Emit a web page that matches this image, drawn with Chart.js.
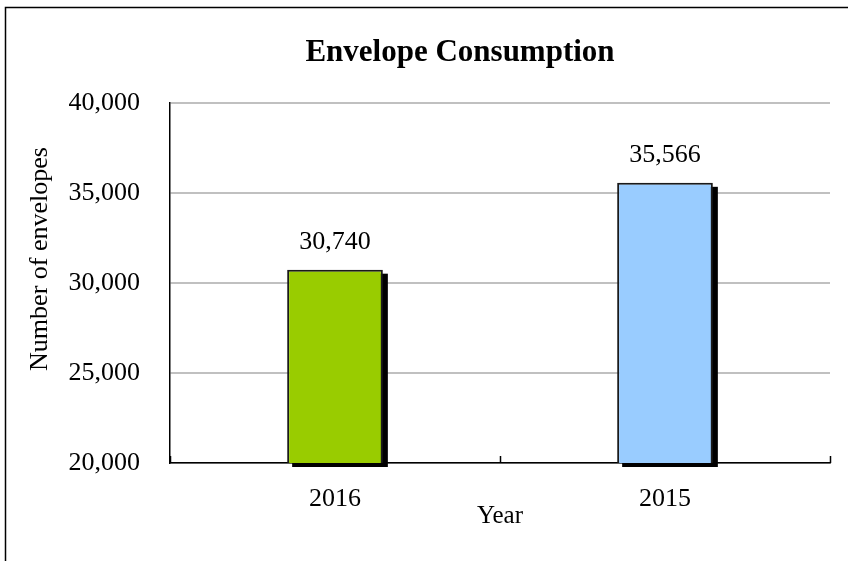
<!DOCTYPE html>
<html>
<head>
<meta charset="utf-8">
<script src="https://cdn.jsdelivr.net/npm/chart.js@4"></script>
<style>
  html, body { margin: 0; padding: 0; background: #fff; }
  #wrap { width: 848px; height: 561px; position: relative; }
</style>
</head>
<body>
<div id="wrap"><canvas id="chart" width="848" height="561"></canvas></div>
<script>
const years = ['2016', '2015'];
const envelopes = [30740, 35566];
const barColors = ['#99cc00', '#99ccff'];
const yTicks = [20000, 25000, 30000, 35000, 40000];

const serif = '"Liberation Serif", "Times New Roman", serif';

// frame around the whole picture (only top and left are in view)
const framePlugin = {
    id: 'frame',
    beforeDraw(chart) {
        const ctx = chart.ctx;
        ctx.save();
        ctx.strokeStyle = '#000';
        ctx.lineWidth = 1.5;
        ctx.beginPath();
        ctx.moveTo(5.5, 561);
        ctx.lineTo(5.5, 7.5);
        ctx.lineTo(848, 7.5);
        ctx.stroke();
        ctx.restore();
    }
};

// chart title and y axis title, placed like the original
const titlesPlugin = {
    id: 'titles',
    afterDraw(chart) {
        const ctx = chart.ctx;
        ctx.save();
        ctx.fillStyle = '#000';
        ctx.textAlign = 'center';
        ctx.textBaseline = 'middle';
        ctx.font = 'bold 31px ' + serif;
        ctx.fillText('Envelope Consumption', 460, 53);
        ctx.translate(40, 259);
        ctx.rotate(-Math.PI / 2);
        ctx.font = '26px ' + serif;
        ctx.fillText('Number of envelopes', 0, 0);
        ctx.restore();
    }
};

// black drop shadow under the bars
const shadowPlugin = {
    id: 'barShadow',
    beforeDatasetsDraw(chart) {
        const ctx = chart.ctx;
        const meta = chart.getDatasetMeta(0);
        const bottom = chart.chartArea.bottom;
        ctx.save();
        ctx.fillStyle = '#000';
        meta.data.forEach(bar => {
            const p = bar.getProps(['x', 'y', 'width']);
            ctx.fillRect(p.x - p.width / 2 + 5, p.y + 4, p.width, bottom - p.y);
        });
        ctx.restore();
    }
};

const valueLabels = {
    id: 'valueLabels',
    afterDatasetsDraw(chart) {
        const ctx = chart.ctx;
        const meta = chart.getDatasetMeta(0);
        ctx.save();
        ctx.font = '26px ' + serif;
        ctx.fillStyle = '#000';
        ctx.textAlign = 'center';
        ctx.textBaseline = 'bottom';
        meta.data.forEach((bar, i) => {
            ctx.fillText(envelopes[i].toLocaleString('en-US'), bar.x, bar.y - 15);
        });
        ctx.restore();
    }
};

// small tick marks on the x axis between categories, pointing up
const xTickMarks = {
    id: 'xTickMarks',
    afterDraw(chart) {
        const ctx = chart.ctx;
        const x = chart.scales.x;
        const area = chart.chartArea;
        const step = (area.right - area.left) / years.length;
        ctx.save();
        ctx.strokeStyle = '#000';
        ctx.lineWidth = 1.5;
        ctx.beginPath();
        for (let i = 0; i <= years.length; i++) {
            const px = Math.round(x.left + step * i) + 0.5;
            ctx.moveTo(px, area.bottom);
            ctx.lineTo(px, area.bottom - 7);
        }
        ctx.stroke();
        ctx.restore();
    }
};

new Chart(document.getElementById('chart'), {
    type: 'bar',
    data: {
        labels: years,
        datasets: [{
            data: envelopes,
            backgroundColor: barColors,
            borderColor: '#1a1a1a',
            borderWidth: 2,
            barPercentage: 0.58,
            categoryPercentage: 0.5
        }]
    },
    options: {
        responsive: false,
        animation: false,
        devicePixelRatio: 1,
        layout: { padding: { top: 103, left: 0, right: 18, bottom: 0 } },
        plugins: {
            legend: { display: false },
            tooltip: { enabled: false },
            title: { display: false }
        },
        scales: {
            y: {
                min: 20000,
                max: 40000,
                afterFit(scale) { scale.width = 170; },
                afterBuildTicks(scale) { scale.ticks = yTicks.map(v => ({ value: v })); },
                ticks: {
                    padding: 30,
                    color: '#000',
                    font: { family: serif, size: 26 },
                    callback: v => v.toLocaleString('en-US')
                },
                grid: {
                    color: '#c0c0c0',
                    lineWidth: 2,
                    drawTicks: false
                },
                border: { display: true, color: '#000', width: 1.5 }
            },
            x: {
                afterFit(scale) { scale.height = 98; },
                ticks: {
                    padding: 21,
                    color: '#000',
                    font: { family: serif, size: 26 }
                },
                grid: { display: false, drawTicks: false },
                border: { display: true, color: '#000', width: 1.5 },
                title: {
                    display: true,
                    text: 'Year',
                    color: '#000',
                    font: { family: serif, size: 25 },
                    padding: { top: 0, bottom: 30 }
                }
            }
        }
    },
    plugins: [framePlugin, shadowPlugin, titlesPlugin, valueLabels, xTickMarks]
});
</script>
</body>
</html>
